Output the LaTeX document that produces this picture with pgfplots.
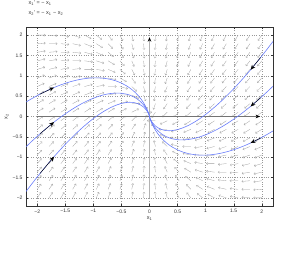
\documentclass[border=0pt]{standalone}
\usepackage{pgfplots}
\pgfplotsset{compat=1.18}
\usepackage{pgfplotstable}
\usepackage{fontspec}
\setmainfont{Liberation Sans}
\usetikzlibrary{arrows.meta}
\definecolor{curveblue}{RGB}{105,125,250}
\definecolor{fieldgray}{RGB}{160,160,160}
\pgfplotstableread[row sep=\\]{
x y\\
-2 -2\\-2 -1.7895\\-2 -1.5789\\-2 -1.3684\\-2 -1.1579\\-2 -0.9474\\-2 -0.7368\\-2 -0.5263\\-2 -0.3158\\-2 -0.1053\\-2 0.1053\\-2 0.3158\\-2 0.5263\\-2 0.7368\\-2 0.9474\\-2 1.1579\\-2 1.3684\\-2 1.5789\\-2 1.7895\\-2 2\\
-1.7895 -2\\-1.7895 -1.7895\\-1.7895 -1.5789\\-1.7895 -1.3684\\-1.7895 -1.1579\\-1.7895 -0.9474\\-1.7895 -0.7368\\-1.7895 -0.5263\\-1.7895 -0.3158\\-1.7895 -0.1053\\-1.7895 0.1053\\-1.7895 0.3158\\-1.7895 0.5263\\-1.7895 0.7368\\-1.7895 0.9474\\-1.7895 1.1579\\-1.7895 1.3684\\-1.7895 1.5789\\-1.7895 1.7895\\-1.7895 2\\
-1.5789 -2\\-1.5789 -1.7895\\-1.5789 -1.5789\\-1.5789 -1.3684\\-1.5789 -1.1579\\-1.5789 -0.9474\\-1.5789 -0.7368\\-1.5789 -0.5263\\-1.5789 -0.3158\\-1.5789 -0.1053\\-1.5789 0.1053\\-1.5789 0.3158\\-1.5789 0.5263\\-1.5789 0.7368\\-1.5789 0.9474\\-1.5789 1.1579\\-1.5789 1.3684\\-1.5789 1.5789\\-1.5789 1.7895\\-1.5789 2\\
-1.3684 -2\\-1.3684 -1.7895\\-1.3684 -1.5789\\-1.3684 -1.3684\\-1.3684 -1.1579\\-1.3684 -0.9474\\-1.3684 -0.7368\\-1.3684 -0.5263\\-1.3684 -0.3158\\-1.3684 -0.1053\\-1.3684 0.1053\\-1.3684 0.3158\\-1.3684 0.5263\\-1.3684 0.7368\\-1.3684 0.9474\\-1.3684 1.1579\\-1.3684 1.3684\\-1.3684 1.5789\\-1.3684 1.7895\\-1.3684 2\\
-1.1579 -2\\-1.1579 -1.7895\\-1.1579 -1.5789\\-1.1579 -1.3684\\-1.1579 -1.1579\\-1.1579 -0.9474\\-1.1579 -0.7368\\-1.1579 -0.5263\\-1.1579 -0.3158\\-1.1579 -0.1053\\-1.1579 0.1053\\-1.1579 0.3158\\-1.1579 0.5263\\-1.1579 0.7368\\-1.1579 0.9474\\-1.1579 1.1579\\-1.1579 1.3684\\-1.1579 1.5789\\-1.1579 1.7895\\-1.1579 2\\
-0.9474 -2\\-0.9474 -1.7895\\-0.9474 -1.5789\\-0.9474 -1.3684\\-0.9474 -1.1579\\-0.9474 -0.9474\\-0.9474 -0.7368\\-0.9474 -0.5263\\-0.9474 -0.3158\\-0.9474 -0.1053\\-0.9474 0.1053\\-0.9474 0.3158\\-0.9474 0.5263\\-0.9474 0.7368\\-0.9474 0.9474\\-0.9474 1.1579\\-0.9474 1.3684\\-0.9474 1.5789\\-0.9474 1.7895\\-0.9474 2\\
-0.7368 -2\\-0.7368 -1.7895\\-0.7368 -1.5789\\-0.7368 -1.3684\\-0.7368 -1.1579\\-0.7368 -0.9474\\-0.7368 -0.7368\\-0.7368 -0.5263\\-0.7368 -0.3158\\-0.7368 -0.1053\\-0.7368 0.1053\\-0.7368 0.3158\\-0.7368 0.5263\\-0.7368 0.7368\\-0.7368 0.9474\\-0.7368 1.1579\\-0.7368 1.3684\\-0.7368 1.5789\\-0.7368 1.7895\\-0.7368 2\\
-0.5263 -2\\-0.5263 -1.7895\\-0.5263 -1.5789\\-0.5263 -1.3684\\-0.5263 -1.1579\\-0.5263 -0.9474\\-0.5263 -0.7368\\-0.5263 -0.5263\\-0.5263 -0.3158\\-0.5263 -0.1053\\-0.5263 0.1053\\-0.5263 0.3158\\-0.5263 0.5263\\-0.5263 0.7368\\-0.5263 0.9474\\-0.5263 1.1579\\-0.5263 1.3684\\-0.5263 1.5789\\-0.5263 1.7895\\-0.5263 2\\
-0.3158 -2\\-0.3158 -1.7895\\-0.3158 -1.5789\\-0.3158 -1.3684\\-0.3158 -1.1579\\-0.3158 -0.9474\\-0.3158 -0.7368\\-0.3158 -0.5263\\-0.3158 -0.3158\\-0.3158 -0.1053\\-0.3158 0.1053\\-0.3158 0.3158\\-0.3158 0.5263\\-0.3158 0.7368\\-0.3158 0.9474\\-0.3158 1.1579\\-0.3158 1.3684\\-0.3158 1.5789\\-0.3158 1.7895\\-0.3158 2\\
-0.1053 -2\\-0.1053 -1.7895\\-0.1053 -1.5789\\-0.1053 -1.3684\\-0.1053 -1.1579\\-0.1053 -0.9474\\-0.1053 -0.7368\\-0.1053 -0.5263\\-0.1053 -0.3158\\-0.1053 -0.1053\\-0.1053 0.1053\\-0.1053 0.3158\\-0.1053 0.5263\\-0.1053 0.7368\\-0.1053 0.9474\\-0.1053 1.1579\\-0.1053 1.3684\\-0.1053 1.5789\\-0.1053 1.7895\\-0.1053 2\\
0.1053 -2\\0.1053 -1.7895\\0.1053 -1.5789\\0.1053 -1.3684\\0.1053 -1.1579\\0.1053 -0.9474\\0.1053 -0.7368\\0.1053 -0.5263\\0.1053 -0.3158\\0.1053 -0.1053\\0.1053 0.1053\\0.1053 0.3158\\0.1053 0.5263\\0.1053 0.7368\\0.1053 0.9474\\0.1053 1.1579\\0.1053 1.3684\\0.1053 1.5789\\0.1053 1.7895\\0.1053 2\\
0.3158 -2\\0.3158 -1.7895\\0.3158 -1.5789\\0.3158 -1.3684\\0.3158 -1.1579\\0.3158 -0.9474\\0.3158 -0.7368\\0.3158 -0.5263\\0.3158 -0.3158\\0.3158 -0.1053\\0.3158 0.1053\\0.3158 0.3158\\0.3158 0.5263\\0.3158 0.7368\\0.3158 0.9474\\0.3158 1.1579\\0.3158 1.3684\\0.3158 1.5789\\0.3158 1.7895\\0.3158 2\\
0.5263 -2\\0.5263 -1.7895\\0.5263 -1.5789\\0.5263 -1.3684\\0.5263 -1.1579\\0.5263 -0.9474\\0.5263 -0.7368\\0.5263 -0.5263\\0.5263 -0.3158\\0.5263 -0.1053\\0.5263 0.1053\\0.5263 0.3158\\0.5263 0.5263\\0.5263 0.7368\\0.5263 0.9474\\0.5263 1.1579\\0.5263 1.3684\\0.5263 1.5789\\0.5263 1.7895\\0.5263 2\\
0.7368 -2\\0.7368 -1.7895\\0.7368 -1.5789\\0.7368 -1.3684\\0.7368 -1.1579\\0.7368 -0.9474\\0.7368 -0.7368\\0.7368 -0.5263\\0.7368 -0.3158\\0.7368 -0.1053\\0.7368 0.1053\\0.7368 0.3158\\0.7368 0.5263\\0.7368 0.7368\\0.7368 0.9474\\0.7368 1.1579\\0.7368 1.3684\\0.7368 1.5789\\0.7368 1.7895\\0.7368 2\\
0.9474 -2\\0.9474 -1.7895\\0.9474 -1.5789\\0.9474 -1.3684\\0.9474 -1.1579\\0.9474 -0.9474\\0.9474 -0.7368\\0.9474 -0.5263\\0.9474 -0.3158\\0.9474 -0.1053\\0.9474 0.1053\\0.9474 0.3158\\0.9474 0.5263\\0.9474 0.7368\\0.9474 0.9474\\0.9474 1.1579\\0.9474 1.3684\\0.9474 1.5789\\0.9474 1.7895\\0.9474 2\\
1.1579 -2\\1.1579 -1.7895\\1.1579 -1.5789\\1.1579 -1.3684\\1.1579 -1.1579\\1.1579 -0.9474\\1.1579 -0.7368\\1.1579 -0.5263\\1.1579 -0.3158\\1.1579 -0.1053\\1.1579 0.1053\\1.1579 0.3158\\1.1579 0.5263\\1.1579 0.7368\\1.1579 0.9474\\1.1579 1.1579\\1.1579 1.3684\\1.1579 1.5789\\1.1579 1.7895\\1.1579 2\\
1.3684 -2\\1.3684 -1.7895\\1.3684 -1.5789\\1.3684 -1.3684\\1.3684 -1.1579\\1.3684 -0.9474\\1.3684 -0.7368\\1.3684 -0.5263\\1.3684 -0.3158\\1.3684 -0.1053\\1.3684 0.1053\\1.3684 0.3158\\1.3684 0.5263\\1.3684 0.7368\\1.3684 0.9474\\1.3684 1.1579\\1.3684 1.3684\\1.3684 1.5789\\1.3684 1.7895\\1.3684 2\\
1.5789 -2\\1.5789 -1.7895\\1.5789 -1.5789\\1.5789 -1.3684\\1.5789 -1.1579\\1.5789 -0.9474\\1.5789 -0.7368\\1.5789 -0.5263\\1.5789 -0.3158\\1.5789 -0.1053\\1.5789 0.1053\\1.5789 0.3158\\1.5789 0.5263\\1.5789 0.7368\\1.5789 0.9474\\1.5789 1.1579\\1.5789 1.3684\\1.5789 1.5789\\1.5789 1.7895\\1.5789 2\\
1.7895 -2\\1.7895 -1.7895\\1.7895 -1.5789\\1.7895 -1.3684\\1.7895 -1.1579\\1.7895 -0.9474\\1.7895 -0.7368\\1.7895 -0.5263\\1.7895 -0.3158\\1.7895 -0.1053\\1.7895 0.1053\\1.7895 0.3158\\1.7895 0.5263\\1.7895 0.7368\\1.7895 0.9474\\1.7895 1.1579\\1.7895 1.3684\\1.7895 1.5789\\1.7895 1.7895\\1.7895 2\\
2 -2\\2 -1.7895\\2 -1.5789\\2 -1.3684\\2 -1.1579\\2 -0.9474\\2 -0.7368\\2 -0.5263\\2 -0.3158\\2 -0.1053\\2 0.1053\\2 0.3158\\2 0.5263\\2 0.7368\\2 0.9474\\2 1.1579\\2 1.3684\\2 1.5789\\2 1.7895\\2 2\\
}\gridtab
\pgfplotstableread{
x A B C
-2.2 -1.8446 -0.7446 0.3554
-2.1 -1.6631 -0.6131 0.4369
-2.0 -1.4863 -0.4863 0.5137
-1.9 -1.3145 -0.3645 0.5855
-1.8 -1.1480 -0.2480 0.6520
-1.7 -0.9871 -0.1371 0.7129
-1.6 -0.8320 -0.0320 0.7680
-1.5 -0.6832 0.0668 0.8168
-1.4 -0.5411 0.1589 0.8589
-1.3 -0.4061 0.2439 0.8939
-1.2 -0.2788 0.3212 0.9212
-1.1 -0.1598 0.3902 0.9402
-1.0 -0.0500 0.4500 0.9500
-0.9 0.0498 0.4998 0.9498
-0.8 0.1385 0.5385 0.9385
-0.7 0.2147 0.5647 0.9147
-0.6 0.2765 0.5765 0.8765
-0.5 0.3216 0.5716 0.8216
-0.4 0.3465 0.5465 0.7465
-0.35 0.3499 0.5249 0.6999
-0.3 0.3462 0.4962 0.6462
-0.25 0.3341 0.4591 0.5841
-0.2 0.3119 0.4119 0.5119
-0.15 0.2771 0.3521 0.4271
-0.1 0.2253 0.2753 0.3253
-0.05 0.1473 0.1723 0.1973
-0.02 0.0772 0.0872 0.0972
-0.01 0.0456 0.0506 0.0556
-0.005 0.0262 0.0288 0.0313
-0.001 0.0068 0.0074 0.0079
0 0 0 0
0.001 -0.0068 -0.0074 -0.0079
0.005 -0.0262 -0.0288 -0.0313
0.01 -0.0456 -0.0506 -0.0556
0.02 -0.0772 -0.0872 -0.0972
0.05 -0.1473 -0.1723 -0.1973
0.1 -0.2253 -0.2753 -0.3253
0.15 -0.2771 -0.3521 -0.4271
0.2 -0.3119 -0.4119 -0.5119
0.25 -0.3341 -0.4591 -0.5841
0.3 -0.3462 -0.4962 -0.6462
0.35 -0.3499 -0.5249 -0.6999
0.4 -0.3465 -0.5465 -0.7465
0.5 -0.3216 -0.5716 -0.8216
0.6 -0.2765 -0.5765 -0.8765
0.7 -0.2147 -0.5647 -0.9147
0.8 -0.1385 -0.5385 -0.9385
0.9 -0.0498 -0.4998 -0.9498
1.0 0.0500 -0.4500 -0.9500
1.1 0.1598 -0.3902 -0.9402
1.2 0.2788 -0.3212 -0.9212
1.3 0.4061 -0.2439 -0.8939
1.4 0.5411 -0.1589 -0.8589
1.5 0.6832 -0.0668 -0.8168
1.6 0.8320 0.0320 -0.7680
1.7 0.9871 0.1371 -0.7129
1.8 1.1480 0.2480 -0.6520
1.9 1.3145 0.3645 -0.5855
2.0 1.4863 0.4863 -0.5137
2.1 1.6631 0.6131 -0.4369
2.2 1.8446 0.7446 -0.3554
}\curvetab
\pgfplotstableread{
x y u v
-1.95 0.5503 0.25 0.1626
-1.95 -0.4247 0.25 0.2876
-1.95 -1.3997 0.25 0.4126
1.98 1.4515 -0.18 -0.3035
1.98 0.4615 -0.18 -0.2135
1.98 -0.5285 -0.18 -0.1235
}\arrowtab
\begin{document}
\begin{tikzpicture}
\path[use as bounding box] (-26pt,-54pt) rectangle (274pt,206pt);
\begin{axis}[
  width=247pt, height=179pt, scale only axis,
  xmin=-2.2, xmax=2.2, ymin=-2.2, ymax=2.2,
  xtick={-2,-1.5,-1,-0.5,0,0.5,1,1.5,2},
  xticklabels={−2,−1.5,−1,−0.5,0,0.5,1,1.5,2},
  ytick={-2,-1.5,-1,-0.5,0,0.5,1,1.5,2},
  yticklabels={−2,−1.5,−1,−0.5,0,0.5,1,1.5,2},
  tick align=inside, major tick length=2pt,
  tick style={black!80, line width=0.3pt},
  grid=major,
  major grid style={dotted, black!40, line width=0.35pt},
  axis line style={black!80, line width=0.4pt},
  tick label style={font=\fontsize{5}{6}\selectfont, text=black!80},
  label style={font=\fontsize{5.5}{6}\selectfont, text=black!80},
  xlabel={x\textsubscript{1}}, ylabel={x\textsubscript{2}},
  xlabel style={yshift=3pt},
  ylabel style={yshift=-3pt},
  title={x\textsubscript{1}' = − x\textsubscript{1}\\x\textsubscript{2}' = − x\textsubscript{1} − x\textsubscript{2}},
  title style={at={(0,1)}, anchor=south west, align=left, font=\fontsize{5.5}{9.5}\selectfont, text=black!80, xshift=-1pt, yshift=2pt},
  clip=true,
]
\addplot[fieldgray, line width=0.3pt, -{Straight Barb[length=1.4pt,width=2.4pt]},
  quiver={u={-0.15*\thisrow{x}/sqrt(\thisrow{x}^2+(\thisrow{x}+\thisrow{y})^2)},
          v={-0.15*(\thisrow{x}+\thisrow{y})/sqrt(\thisrow{x}^2+(\thisrow{x}+\thisrow{y})^2)+0.0002}}]
  table {\gridtab};
\addplot[draw=black!30, line width=1.4pt, -{Stealth[black,length=4.5pt,width=3.5pt]}] coordinates {(0,-2) (0,1.95)};
\addplot[draw=black!55, line width=0.6pt, -{Stealth[black,length=4.5pt,width=3.5pt]}] coordinates {(-2,0) (1.97,0)};
\addplot[curveblue, line width=0.6pt] table[x=x, y=A] {\curvetab};
\addplot[curveblue, line width=0.6pt] table[x=x, y=B] {\curvetab};
\addplot[curveblue, line width=0.6pt] table[x=x, y=C] {\curvetab};
\addplot[black, line width=0.45pt, -{Stealth[length=5pt,width=4pt]},
  quiver={u=\thisrow{u}, v=\thisrow{v}}] table {\arrowtab};
\end{axis}
\end{tikzpicture}
\end{document}
